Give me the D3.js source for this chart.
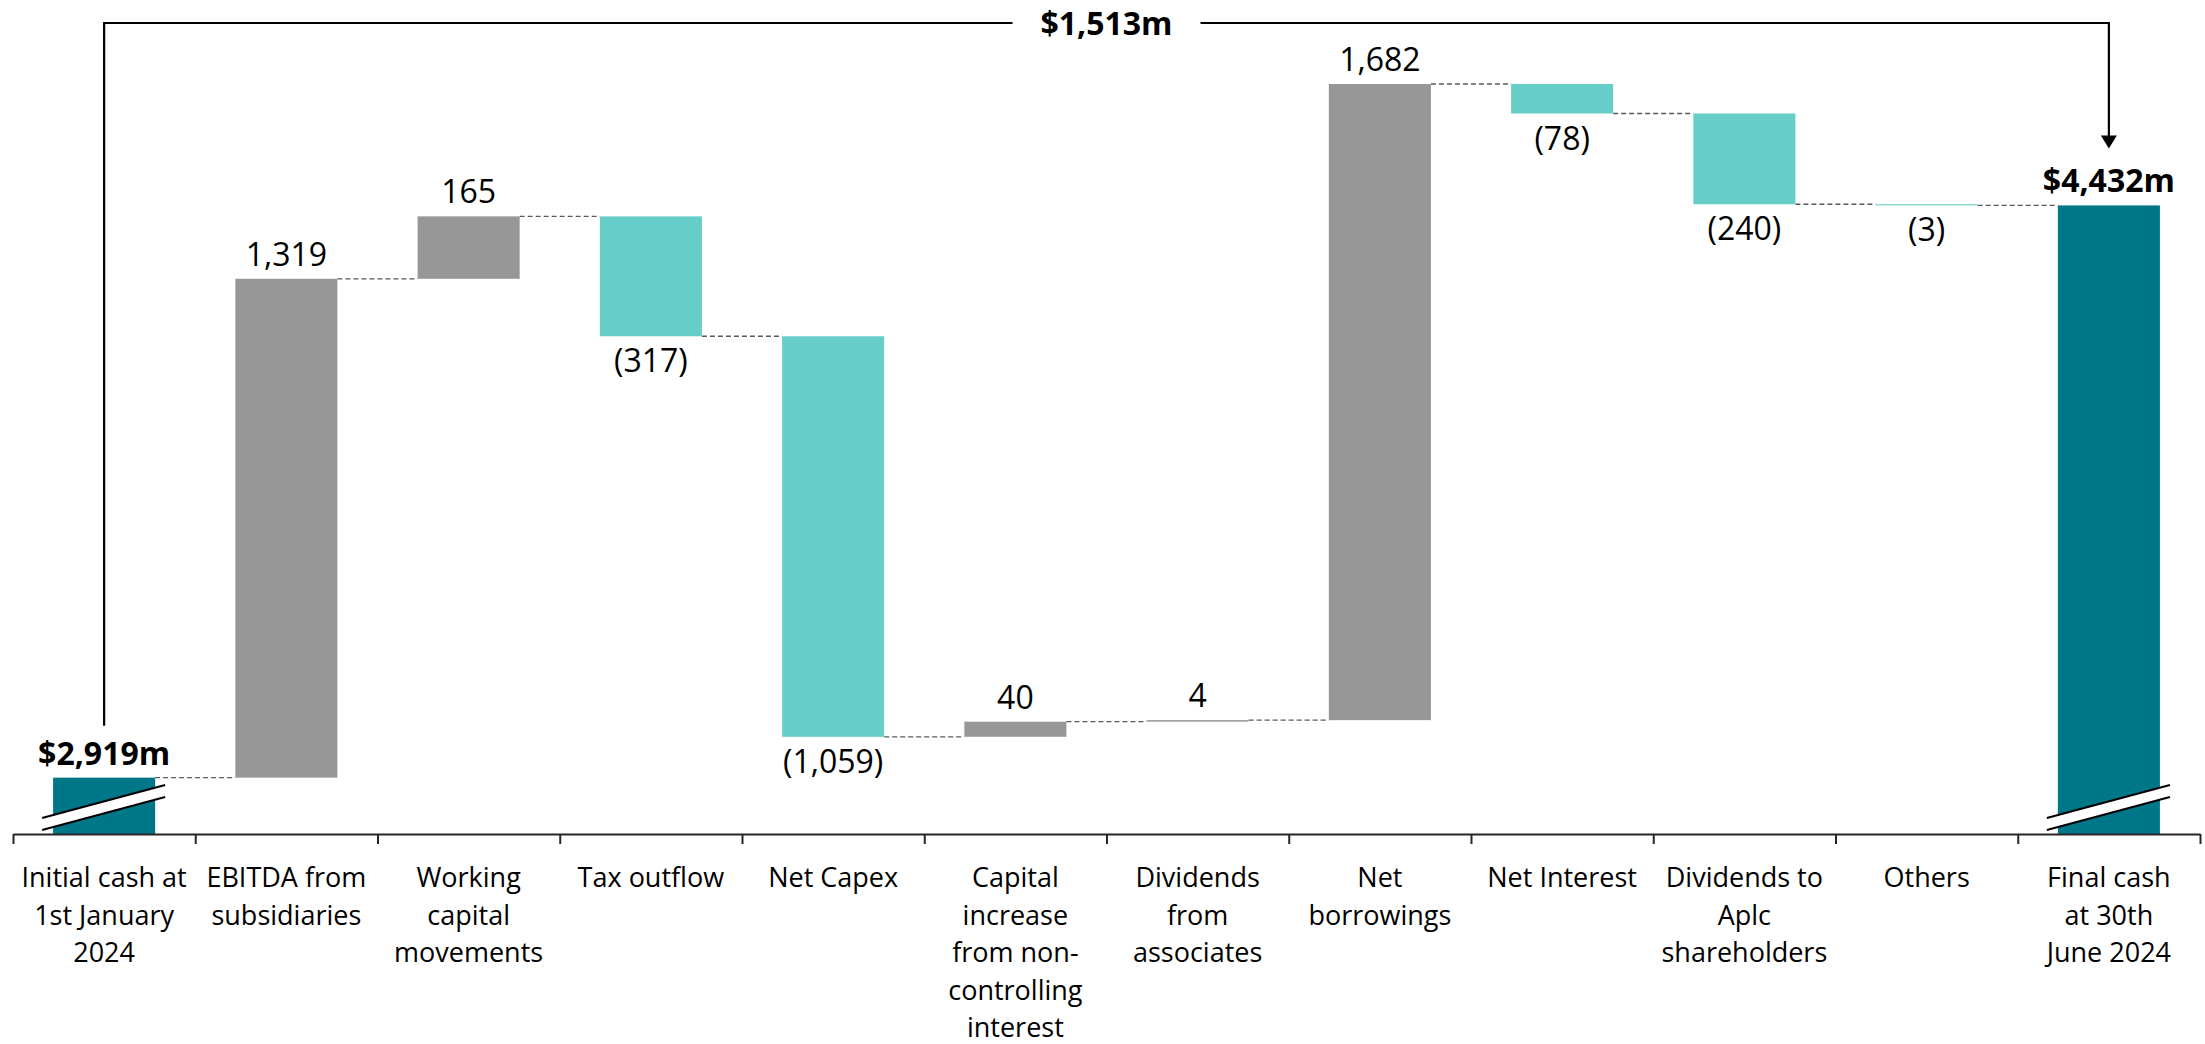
<!DOCTYPE html>
<html>
<head>
<meta charset="utf-8">
<script src="https://cdn.jsdelivr.net/npm/d3@7"></script>
<style>
  body { margin: 0; background: #fff; }
  svg { display: block; font-family: "Open Sans", sans-serif; }
</style>
</head>
<body>
<script>
// Chart data
const categories = [
    'Initial cash at 1st January 2024', 'EBITDA from subsidiaries', 'Working capital movements',
    'Tax outflow', 'Net Capex', 'Capital increase from non-controlling interest',
    'Dividends from associates', 'Net borrowings', 'Net Interest',
    'Dividends to Aplc shareholders', 'Others', 'Final cash at 30th June 2024'
];
const categoryLines = [
    ['Initial cash at', '1st January', '2024'], ['EBITDA from', 'subsidiaries'], ['Working', 'capital', 'movements'],
    ['Tax outflow'], ['Net Capex'], ['Capital', 'increase', 'from non-', 'controlling', 'interest'],
    ['Dividends', 'from', 'associates'], ['Net', 'borrowings'], ['Net Interest'],
    ['Dividends to', 'Aplc', 'shareholders'], ['Others'], ['Final cash', 'at 30th', 'June 2024']
];
// movements between opening and closing cash ($m)
const changes = [null, 1319, 165, -317, -1059, 40, 4, 1682, -78, -240, -3, null];
const openingCash = 2919;
const closingCash = 4432;
const netChangeLabel = '$1,513m';

const W = 2205, H = 1044;
const colors = { total: '#007788', up: '#979797', down: '#66cdc8' };

const svg = d3.select('body').append('svg')
    .attr('width', W)
    .attr('height', H);

// Scales (value axis is truncated, so opening/closing bars get break marks)
const y = d3.scaleLinear().domain([2770, 4753]).range([834, 84]);
const xBand = d3.scaleBand().domain(categories).range([13, 2200])
    .paddingInner(0.44).paddingOuter(0.22);
const xEdge = d3.scaleLinear().domain([0, categories.length]).range([13, 2200]);
const bw = xBand.bandwidth();
const cx = c => xBand(c) + bw / 2;

// Running totals
let run = openingCash;
const steps = categories.map((c, i) => {
    if (i === 0) return { c, kind: 'total', y0: y.domain()[0], y1: openingCash, value: openingCash };
    if (i === categories.length - 1) return { c, kind: 'total', y0: y.domain()[0], y1: closingCash, value: closingCash };
    const start = run;
    run += changes[i];
    return { c, kind: changes[i] >= 0 ? 'up' : 'down', y0: start, y1: run, value: changes[i] };
});

// Connectors
svg.append('g').selectAll('line')
    .data(steps.slice(0, -1))
    .enter()
    .append('line')
    .attr('x1', d => xBand(d.c) + bw)
    .attr('x2', (d, i) => xBand(steps[i + 1].c))
    .attr('y1', d => y(d.y1))
    .attr('y2', d => y(d.y1))
    .attr('stroke', '#595959')
    .attr('stroke-width', 1.3)
    .attr('stroke-dasharray', '5,3');

// Bars
svg.append('g').selectAll('rect')
    .data(steps)
    .enter()
    .append('rect')
    .attr('x', d => xBand(d.c))
    .attr('y', d => y(Math.max(d.y0, d.y1)))
    .attr('width', bw)
    .attr('height', d => Math.max(1, Math.abs(y(d.y0) - y(d.y1))))
    .attr('fill', d => colors[d.kind]);

// Break marks on the truncated bars
const breaks = svg.append('g');
steps.filter(d => d.kind === 'total').forEach(d => {
    const x0 = xBand(d.c) - 11, x1 = xBand(d.c) + bw + 10;
    const base = y.range()[0];
    breaks.append('polygon')
        .attr('points', [[x0, base - 16], [x1, base - 49], [x1, base - 37], [x0, base - 4]].join(' '))
        .attr('fill', '#fff');
    [[16, 49], [4, 37]].forEach(([a, b]) => {
        breaks.append('line')
            .attr('x1', x0).attr('y1', base - a)
            .attr('x2', x1).attr('y2', base - b)
            .attr('stroke', '#000')
            .attr('stroke-width', 2);
    });
});

// Value labels
const fmt = d3.format(',');
svg.append('g').selectAll('text')
    .data(steps)
    .enter()
    .append('text')
    .attr('x', d => cx(d.c))
    .attr('y', d => d.kind === 'down' ? y(d.y1) + 36 : y(d.y1) - 13)
    .attr('text-anchor', 'middle')
    .attr('font-size', 32)
    .attr('font-weight', d => d.kind === 'total' ? 700 : 400)
    .attr('fill', '#000')
    .text(d => d.kind === 'total' ? `$${fmt(d.value)}m`
        : d.value < 0 ? `(${fmt(-d.value)})` : fmt(d.value));

// X axis with ticks on band edges
const axis = svg.append('g')
    .attr('transform', `translate(0,${y.range()[0]})`)
    .call(d3.axisBottom(xEdge)
        .tickValues(d3.range(categories.length + 1))
        .tickFormat('')
        .tickSize(10)
        .tickSizeOuter(0));
axis.select('.domain').attr('stroke', '#262626').attr('stroke-width', 2);
axis.selectAll('.tick line').attr('stroke', '#262626').attr('stroke-width', 2);

// Category labels
const labels = svg.append('g')
    .attr('font-size', 27)
    .attr('fill', '#000')
    .attr('text-anchor', 'middle');
categories.forEach((c, i) => {
    const t = labels.append('text').attr('x', cx(c)).attr('y', y.range()[0] + 53);
    categoryLines[i].forEach((line, j) => {
        t.append('tspan').attr('x', cx(c)).attr('dy', j === 0 ? 0 : 37.6).text(line);
    });
});

// Bracket showing the net change
const topY = 23;
const leftX = cx(categories[0]);
const rightX = cx(categories[categories.length - 1]);
const midX = (xEdge.range()[0] + xEdge.range()[1]) / 2;
const bracket = svg.append('g');
const netText = bracket.append('text')
    .attr('x', midX)
    .attr('y', topY + 11.5)
    .attr('text-anchor', 'middle')
    .attr('font-size', 32)
    .attr('font-weight', 700)
    .text(netChangeLabel);
const half = netText.node().getComputedTextLength() / 2 + 28;
const arrowTip = y(closingCash) - 57;
bracket.append('path')
    .attr('d', `M${leftX},${y(openingCash) - 52}V${topY}H${midX - half}`)
    .attr('fill', 'none').attr('stroke', '#000').attr('stroke-width', 2.2);
bracket.append('path')
    .attr('d', `M${midX + half},${topY}H${rightX}V${arrowTip - 12}`)
    .attr('fill', 'none').attr('stroke', '#000').attr('stroke-width', 2.2);
bracket.append('path')
    .attr('d', `M${rightX - 8},${arrowTip - 13}L${rightX + 8},${arrowTip - 13}L${rightX},${arrowTip}Z`)
    .attr('fill', '#000');
</script>
</body>
</html>
